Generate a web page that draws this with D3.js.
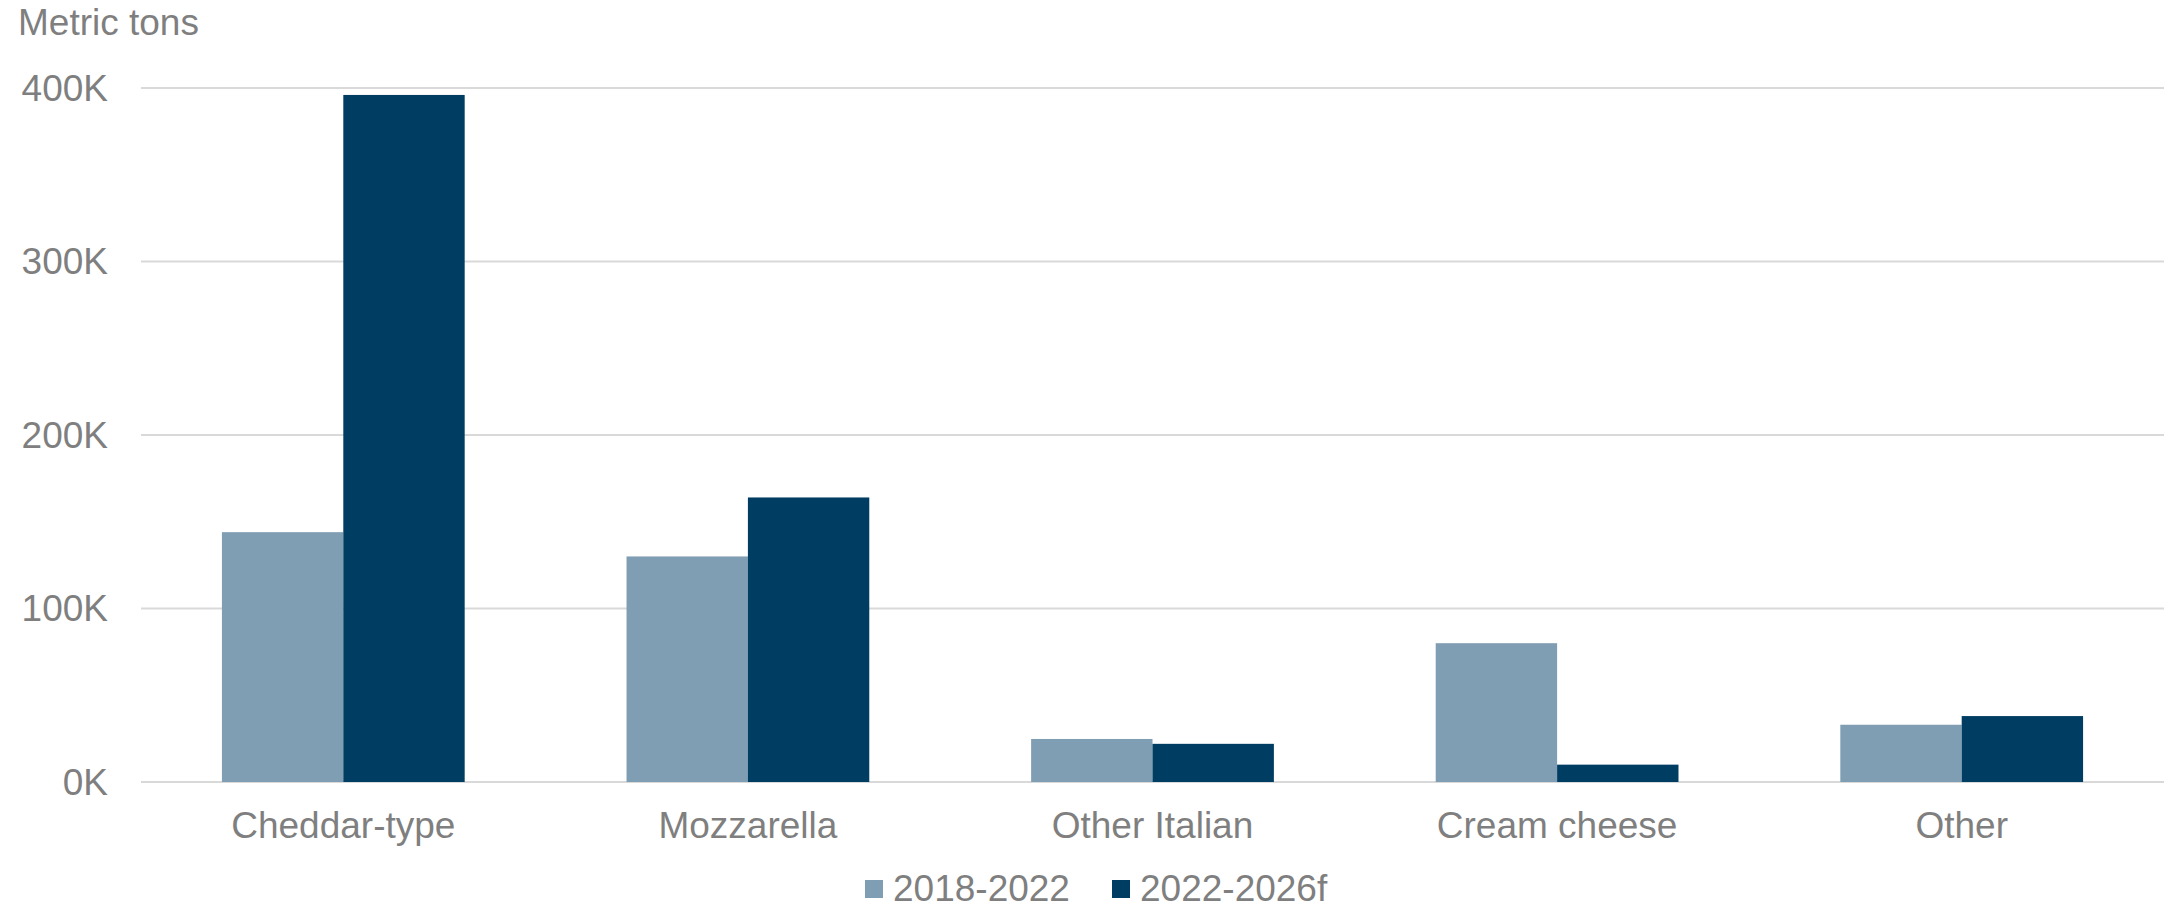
<!DOCTYPE html>
<html>
<head>
<meta charset="utf-8">
<script src="https://cdn.jsdelivr.net/npm/d3@7"></script>
<style>
  html, body { margin: 0; padding: 0; background: #ffffff; }
  svg { display: block; }
  text { font-family: "Liberation Sans", Arial, sans-serif; fill: #7f7f7f; }
</style>
</head>
<body>
<script>
const categories = ["Cheddar-type", "Mozzarella", "Other Italian", "Cream cheese", "Other"];
const seriesNames = ["2018-2022", "2022-2026f"];
const values2018_2022 = [144000, 130000, 24800, 80000, 33000];
const values2022_2026f = [396000, 164000, 22000, 10000, 38000];
const yTicks = [0, 100000, 200000, 300000, 400000];
const yTickLabels = ["0K", "100K", "200K", "300K", "400K"];
const colors = ["#7f9db3", "#003d63"];

const W = 2164, H = 909;
const svg = d3.select("body").append("svg").attr("width", W).attr("height", H);

const x = d3.scaleBand().domain(categories).range([141, 2164]).paddingInner(0.4).paddingOuter(0.2);
const xs = d3.scaleBand().domain(seriesNames).range([0, x.bandwidth()]).padding(0);
const y = d3.scaleLinear().domain([0, 400000]).range([782, 88]);

// gridlines
svg.append("g").selectAll("line").data(yTicks).join("line")
  .attr("x1", 141).attr("x2", W)
  .attr("y1", d => y(d)).attr("y2", d => y(d))
  .attr("stroke", "#d9d9d9").attr("stroke-width", 2);

// y tick labels
svg.append("g").selectAll("text").data(yTicks).join("text")
  .attr("x", 108).attr("y", d => y(d)).attr("dy", "0.35em")
  .attr("text-anchor", "end").style("font-size", "37px")
  .text((d, i) => yTickLabels[i]);

// axis title
svg.append("text").attr("x", 18).attr("y", 35).style("font-size", "37px").text("Metric tons");

// bars
const data = categories.map((c, i) => ({ c, vals: [values2018_2022[i], values2022_2026f[i]] }));
const groups = svg.append("g").selectAll("g").data(data).join("g")
  .attr("transform", d => `translate(${x(d.c)},0)`);
groups.selectAll("rect").data(d => d.vals.map((v, j) => ({ s: seriesNames[j], v, j }))).join("rect")
  .attr("x", d => xs(d.s)).attr("width", xs.bandwidth())
  .attr("y", d => y(d.v)).attr("height", d => y(0) - y(d.v))
  .attr("fill", d => colors[d.j]);

// category labels
svg.append("g").selectAll("text").data(categories).join("text")
  .attr("x", d => x(d) + x.bandwidth() / 2).attr("y", 838)
  .attr("text-anchor", "middle").style("font-size", "37px").text(d => d);

// legend
const legendX = [865, 1112];
const leg = svg.append("g").selectAll("g").data(seriesNames).join("g")
  .attr("transform", (d, i) => `translate(${legendX[i]},0)`);
leg.append("rect").attr("x", 0).attr("y", 880).attr("width", 18).attr("height", 18)
  .attr("fill", (d, i) => colors[i]);
leg.append("text").attr("x", 28).attr("y", 901).style("font-size", "37px").text(d => d);
</script>
</body>
</html>
